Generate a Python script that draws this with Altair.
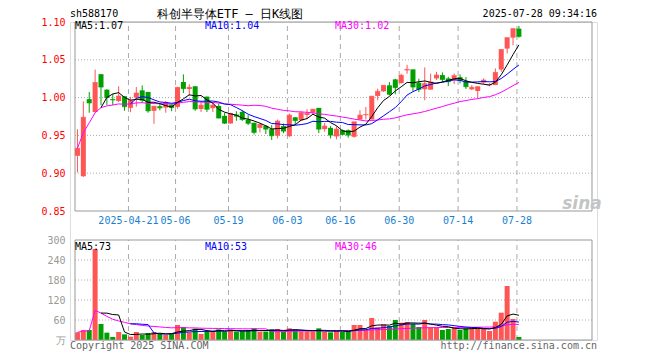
import altair as alt
import pandas as pd
import numpy as np

# ---------------- data ----------------
opens = [0.923, 0.896, 0.998, 0.981, 1.031, 1.0105, 0.998, 0.9956, 1.0018, 0.9864,
         1.000, 1.0096, 1.0075, 0.9825, 0.9886, 0.9868, 0.9908, 0.9877, 1.0206, 1.0114,
         1.015, 0.985, 1.0013, 0.986, 0.989, 0.9759, 0.9658, 0.9776, 0.9811, 0.971,
         0.9667, 0.960, 0.9627, 0.9583, 0.9496, 0.9623, 0.949, 0.974, 0.970, 0.977,
         0.980, 0.9864, 0.9583, 0.960, 0.9487, 0.957, 0.957, 0.9482, 0.971, 0.9768,
         0.971, 1.0022, 1.0083, 1.0162, 1.0241, 1.0193, 1.036, 1.0373, 1.0197, 1.011,
         1.0105, 1.0254, 1.0298, 1.0254, 1.0232, 1.0271, 1.0219, 1.0109, 1.0087, 1.020,
         1.0166, 1.0166, 1.0372, 1.0648, 1.0793, 1.0912]
highs = [0.958, 0.995, 1.0075, 1.037, 1.031, 1.011, 1.005, 1.015, 1.002, 1.001,
         1.014, 1.016, 1.0075, 0.9886, 0.992, 0.9956, 0.991, 1.014, 1.0307, 1.0175,
         1.015, 0.9943, 1.0013, 0.993, 0.992, 0.980, 0.980, 0.982, 0.9833, 0.9768,
         0.9667, 0.9658, 0.9636, 0.9636, 0.971, 0.9658, 0.979, 0.974, 0.982, 0.9846,
         0.985, 0.9864, 0.9667, 0.9623, 0.9623, 0.958, 0.958, 0.968, 0.9833, 0.9877,
         1.002, 1.0118, 1.0162, 1.0206, 1.025, 1.0316, 1.0434, 1.0373, 1.025, 1.040,
         1.0316, 1.0342, 1.0333, 1.0276, 1.032, 1.0307, 1.0271, 1.0166, 1.0144, 1.0254,
         1.019, 1.0386, 1.0636, 1.0793, 1.0912, 1.0947]
lows = [0.901, 0.895, 0.980, 0.980, 0.990, 0.990, 0.990, 0.994, 0.9825, 0.9807,
        0.988, 0.9934, 0.980, 0.9653, 0.983, 0.980, 0.982, 0.9855, 1.006, 1.0022,
        0.9825, 0.981, 0.981, 0.981, 0.9724, 0.965, 0.9655, 0.9693, 0.969, 0.9636,
        0.9513, 0.954, 0.9518, 0.9439, 0.946, 0.953, 0.948, 0.9645, 0.9693, 0.9715,
        0.9776, 0.953, 0.9548, 0.946, 0.9447, 0.9504, 0.947, 0.947, 0.971, 0.971,
        0.971, 0.9965, 1.0075, 1.003, 1.0044, 1.0184, 1.0316, 1.0083, 1.0075, 0.9965,
        1.0105, 1.0232, 1.021, 1.0153, 1.018, 1.0188, 1.0114, 1.010, 0.999, 1.0175,
        1.015, 1.0166, 1.0342, 1.0583, 1.0693, 1.0793]
closes = [0.933, 0.974, 0.993, 1.020, 1.014, 1.000, 0.997, 1.002, 0.988, 0.9956,
          1.006, 0.9965, 0.9825, 0.9886, 0.9864, 0.993, 0.9868, 1.0136, 1.0118, 1.0136,
          0.985, 0.990, 0.9846, 0.990, 0.973, 0.9662, 0.979, 0.9754, 0.971, 0.966,
          0.954, 0.9645, 0.9583, 0.9496, 0.9689, 0.9557, 0.9768, 0.9697, 0.9798, 0.979,
          0.9846, 0.9583, 0.9623, 0.9504, 0.9583, 0.9513, 0.9504, 0.968, 0.9768, 0.9776,
          1.0018, 1.0083, 1.0162, 1.0044, 1.0132, 1.0294, 1.0373, 1.014, 1.011, 1.0184,
          1.0205, 1.0298, 1.024, 1.021, 1.029, 1.0228, 1.0144, 1.0136, 1.0144, 1.0232,
          1.017, 1.0333, 1.0636, 1.0793, 1.0912, 1.081]
volumes = [23, 30, 30, 273, 48, 22, 9, 24, 17, 10,
           24, 15, 21, 24, 18, 15, 18, 45, 39, 23,
           34, 18, 27, 27, 32, 25, 30, 25, 27, 30,
           35, 25, 25, 32, 33, 25, 35, 30, 25, 25,
           25, 35, 25, 23, 27, 25, 27, 45, 45, 30,
           66, 38, 47, 42, 60, 52, 54, 48, 39, 60,
           38, 38, 30, 33, 38, 30, 35, 35, 35, 35,
           27, 55, 82, 162, 63, 9]

tick_index = [9, 17, 26, 36, 45, 55, 65, 75]
tick_labels = ["2025-04-21", "05-06", "05-19", "06-03", "06-16", "06-30", "07-14", "07-28"]
price_ticks = [0.85, 0.90, 0.95, 1.00, 1.05, 1.10]
volume_ticks = [0, 60, 120, 180, 240, 300]

code_text = "sh588170"
title_text = "科创半导体ETF — 日K线图"
time_text = "2025-07-28 09:34:16"
price_legend = ["MA5:1.07", "MA10:1.04", "MA30:1.02"]
volume_legend = ["MA5:73", "MA10:53", "MA30:46"]
footer_left = "Copyright 2025 SINA.COM"
footer_right = "http://finance.sina.com.cn"
watermark = "sina"

# ---------------- styling / layout ----------------
W, H = 527, 318
RED, GREEN = "#ff5555", "#00a000"
GRID = "#aaaaaa"
MONO = "DejaVu Sans Mono"
XD = [-2.5 / 6, (W - 2.5) / 6]
PD = [1.10 - H / 756.0, 1.10]
VD = [0, H * 3.0]

n = len(closes)
df = pd.DataFrame({"i": np.arange(n), "o": opens, "h": highs, "l": lows, "c": closes, "v": volumes})
df["lo"] = np.minimum(df.o, df.c)
df["hi"] = np.maximum(df.o, df.c)
df["dir"] = np.where(df.c >= df.o, "up", "down")

xs = alt.Scale(domain=XD, nice=False, zero=False)
ps = alt.Scale(domain=PD, nice=False, zero=False)
vs = alt.Scale(domain=VD, nice=False, zero=False)
col = alt.Color("dir:N", scale=alt.Scale(domain=["up", "down"], range=[RED, GREEN]), legend=None)

price_axis = alt.Axis(values=price_ticks, format=".2f", labelColor="#ff0000", labelFont=MONO,
                      labelFontSize=10, ticks=False, domain=False, grid=False, labelPadding=5,
                      title=None, orient="left")
vol_axis = alt.Axis(values=volume_ticks, labelExpr="datum.value == 0 ? '万' : datum.label",
                    labelColor="#999999", labelFont=MONO, labelFontSize=10, ticks=False,
                    domain=False, grid=False, labelPadding=5, title=None, orient="left")


def X(f):
    return alt.X(f, type="quantitative", scale=xs, axis=None)


def YP(f):
    return alt.Y(f, type="quantitative", scale=ps, axis=price_axis)


def YV(f):
    return alt.Y(f, type="quantitative", scale=vs, axis=vol_axis)


def txt(s, x, y, color, size=10, font=MONO, align="left", **kw):
    return alt.Chart(pd.DataFrame({"t": [s]})).mark_text(
        align=align, baseline="middle", color=color, font=font, fontSize=size, **kw
    ).encode(text="t:N", x=alt.value(x), y=alt.value(y))


grid_df = pd.DataFrame({"g": [t - 1 / 3 for t in tick_index], "lab": tick_labels,
                        "p0": price_ticks[0], "p1": price_ticks[-1],
                        "v0": volume_ticks[0], "v1": volume_ticks[-1]})
border_df = pd.DataFrame({"x0": [XD[0]], "x1": [XD[1]], "p0": [price_ticks[0]], "p1": [price_ticks[-1]],
                          "v0": [volume_ticks[0]], "v1": [volume_ticks[-1]]})
ph_df = pd.DataFrame({"p": price_ticks[1:-1], "x0": XD[0], "x1": XD[1]})
vh_df = pd.DataFrame({"v": volume_ticks[1:-1], "x0": XD[0], "x1": XD[1]})

# ---------------- price panel ----------------
p_hgrid = alt.Chart(ph_df).mark_rule(color=GRID, strokeDash=[1, 2], strokeWidth=1).encode(
    x=X("x0"), x2="x1", y=YP("p"))
p_vgrid = alt.Chart(grid_df).mark_rule(color=GRID, strokeDash=[5, 4], strokeWidth=1).encode(
    x=X("g"), y=YP("p0"), y2="p1")
p_border = alt.Chart(border_df).mark_rect(fillOpacity=0, stroke="#999999", strokeWidth=1).encode(
    x=X("x0"), x2="x1", y=YP("p0"), y2="p1")
wicks = alt.Chart(df).mark_rule(strokeWidth=1).encode(x=X("i"), y=YP("l"), y2="h", color=col)
bodies = alt.Chart(df).mark_bar(size=5).encode(x=X("i"), y=YP("lo"), y2="hi", color=col)
dojis = alt.Chart(df).mark_tick(orient="horizontal", size=5, thickness=1).encode(
    x=X("i"), y=YP("c"), color=col)


def ma_line(field, k, color, scale_fn, name):
    base = alt.Chart(df).transform_window(
        **{name: "mean(%s)" % field, "cnt": "count()"}, frame=[-(k - 1), 0],
        sort=[alt.SortField("i", order="ascending")])
    if k < 30:
        base = base.transform_filter("datum.cnt >= %d" % k)
    return base.mark_line(color=color, strokeWidth=1, interpolate="linear").encode(
        x=X("i"), y=scale_fn(name))


p_ma5 = ma_line("c", 5, "#000000", YP, "pma5")
p_ma10 = ma_line("c", 10, "#0000ff", YP, "pma10")
p_ma30 = ma_line("c", 30, "#ff00ff", YP, "pma30")

date_text = alt.Chart(grid_df).mark_text(align="center", baseline="middle", color="#1a7fd0",
                                         font=MONO, fontSize=10).encode(
    x=X("g"), y=alt.value(199), text="lab:N")

price = alt.layer(
    p_hgrid, p_vgrid, p_border, wicks, bodies, dojis, p_ma30, p_ma10, p_ma5, date_text,
    txt(price_legend[0], 5, 4, "#000000"),
    txt(price_legend[1], 135, 4, "#0000ff"),
    txt(price_legend[2], 265, 4, "#ff00ff"),
    txt(code_text, 0, -8.5, "#000000"),
    txt(title_text, 160, -8, "#000000", size=12, font=MONO, align="center"),
    txt(time_text, W, -8.5, "#000000", align="right"),
    txt(watermark, 512, 182, "#c4c4c4", size=17, font="DejaVu Sans", align="center",
        fontStyle="italic", fontWeight="bold"),
)

# ---------------- volume panel ----------------
v_hgrid = alt.Chart(vh_df).mark_rule(color=GRID, strokeDash=[1, 2], strokeWidth=1).encode(
    x=X("x0"), x2="x1", y=YV("v"))
v_vgrid = alt.Chart(grid_df).mark_rule(color=GRID, strokeDash=[5, 4], strokeWidth=1).encode(
    x=X("g"), y=YV("v0"), y2="v1")
v_border = alt.Chart(border_df).mark_rect(fillOpacity=0, stroke="#999999", strokeWidth=1).encode(
    x=X("x0"), x2="x1", y=YV("v0"), y2="v1")
vbars = alt.Chart(df).mark_bar(size=5, orient="vertical").encode(x=X("i"), y=YV("v"), color=col)
v_ma5 = ma_line("v", 5, "#000000", YV, "vma5")
v_ma10 = ma_line("v", 10, "#0000ff", YV, "vma10")
v_ma30 = ma_line("v", 30, "#ff00ff", YV, "vma30")

volume = alt.layer(
    v_hgrid, v_vgrid, vbars, v_ma30, v_ma10, v_ma5, v_border,
    txt(volume_legend[0], 5, 224.5, "#000000"),
    txt(volume_legend[1], 135, 224.5, "#0000ff"),
    txt(volume_legend[2], 265, 224.5, "#ff00ff"),
    txt(footer_left, 0, 323.5, "#666666"),
    txt(footer_right, W, 323.5, "#666666", align="right"),
)

chart = alt.layer(price, volume).resolve_scale(y="independent").properties(
    width=W, height=H,
    autosize=alt.AutoSizeParams(type="none"),
    padding={"left": 62, "top": 14, "right": 55, "bottom": 20},
).configure_view(stroke=None).configure(background="white")

chart.save("out.html", embed_options={"renderer": "svg", "actions": False})
